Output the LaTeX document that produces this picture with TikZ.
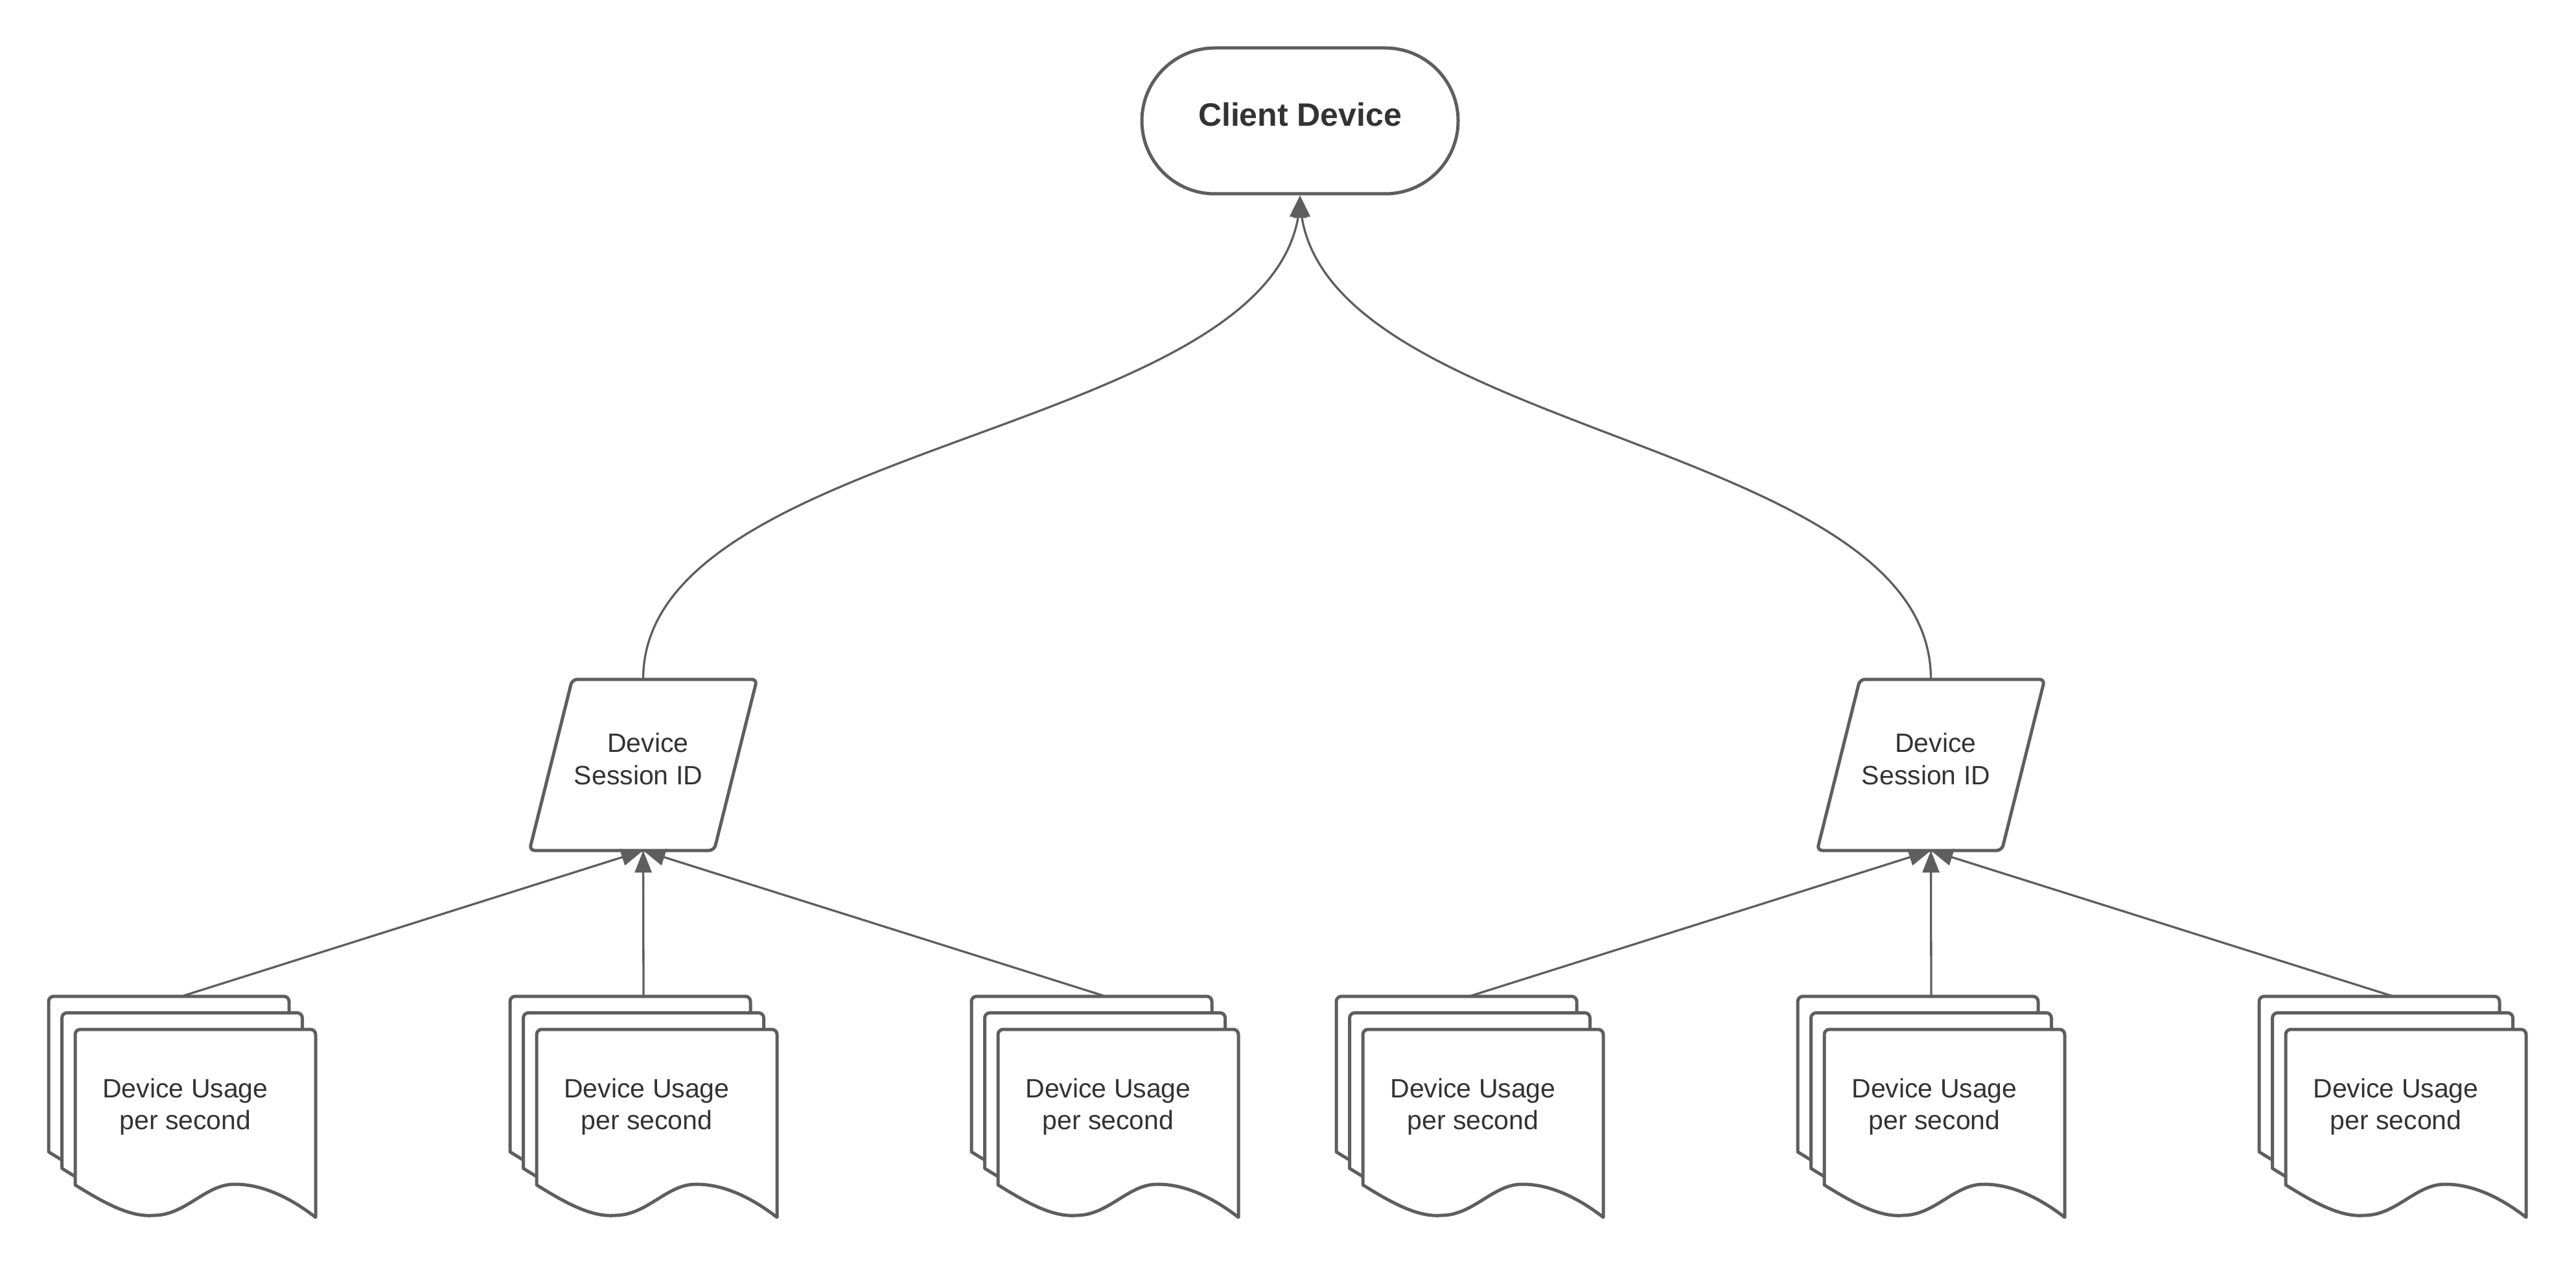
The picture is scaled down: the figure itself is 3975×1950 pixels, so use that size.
\documentclass[tikz,border=0pt]{standalone}
\usepackage{fontspec}
\setmainfont{Liberation Sans}
\usetikzlibrary{arrows.meta,bending}
\definecolor{linegray}{HTML}{5E5E5E}
\definecolor{txtgray}{HTML}{333333}

\tikzset{
  shapeline/.style={draw=linegray, line width=5pt, line join=round},
  conn/.style={draw=linegray, line width=3.3pt, -{Triangle[length=34pt,width=26pt]}},
  stadium/.style={shapeline, fill=white, rounded corners=112.5pt, minimum width=488pt, minimum height=225pt, inner sep=0pt},
  boldlabel/.style={text=txtgray, inner sep=0pt, font=\fontsize{50pt}{60pt}\selectfont\bfseries},
  sessnode/.style={draw=none, inner sep=0pt, minimum width=351pt, minimum height=264pt},
  sesslabel/.style={text=txtgray, inner sep=0pt, align=center, font=\fontsize{41pt}{50pt}\selectfont},
  docnode/.style={draw=none, inner sep=0pt, minimum width=412pt, minimum height=341pt, text=txtgray, align=center, font=\fontsize{41pt}{49pt}\selectfont}
}

\newcommand\sheetshape[2]{%
  \draw[shapeline,fill=white] (#1,#2+240) [rounded corners=8pt] -- (#1,#2) -- (#1+371,#2) [sharp corners] -- (#1+371,#2+290)
    .. controls (#1+335,#2+262) and (#1+290,#2+238) .. (#1+244,#2+239)
    .. controls (#1+200,#2+240) and (#1+170,#2+287) .. (#1+121,#2+287)
    .. controls (#1+85,#2+290) and (#1+45,#2+268) .. (#1,#2+240) -- cycle;}

\newcommand\docstack[2]{%
  \sheetshape{#2}{1537}
  \sheetshape{#2+20.5}{1562.5}
  \sheetshape{#2+41}{1588}
  \node[docnode] (#1) at (#2+206,1707.5) {\hspace*{10pt}Device Usage\\\hspace*{10pt}per second};}

\newcommand\sessionbox[2]{%
  \node[sessnode] (#1) at (#2,1180) {};
  \draw[shapeline,fill=white,rounded corners=8pt] (#2,1048) -- (#2+175.5,1048) -- (#2+109.5,1312) -- (#2-175.5,1312) -- (#2-109.5,1048) -- cycle;
  \node[sesslabel] (#1label) at (#2,1170.5) {\hspace*{15pt}Device\\Session ID\hspace*{15pt}};}

\begin{document}
\begin{tikzpicture}[x=1pt,y=-1pt]
  \fill[white] (0,0) rectangle (3975,1950);
  \useasboundingbox (0,0) rectangle (3975,1950);

  % top node
  \node[stadium] (client) at (2006,186.5) {};
  \node[boldlabel] (clientlabel) at (2006,177) {Client Device};

  % session boxes
  \sessionbox{s1}{992.5}
  \sessionbox{s2}{2979.5}

  % document stacks
  \docstack{d1}{75}
  \docstack{d2}{787}
  \docstack{d3}{1499}
  \docstack{d4}{2062}
  \docstack{d5}{2774}
  \docstack{d6}{3486}

  % connectors
  \draw[conn] (d1.north) -- (s1.south);
  \draw[conn] (d2.north) -- (s1.south);
  \draw[conn] (d3.north) -- (s1.south);
  \draw[conn] (d4.north) -- (s2.south);
  \draw[conn] (d5.north) -- (s2.south);
  \draw[conn] (d6.north) -- (s2.south);
  \draw[conn] (s1.north) .. controls +(0,-377) and +(0,372) .. (client.south);
  \draw[conn] (s2.north) .. controls +(0,-377) and +(0,372) .. (client.south);
\end{tikzpicture}
\end{document}
